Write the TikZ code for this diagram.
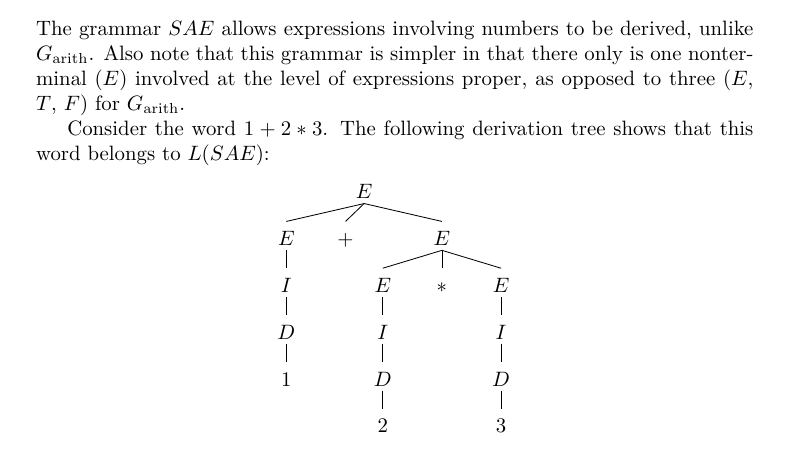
\documentclass[tikz,border=0pt]{standalone}
\usepackage{amsmath}
\usepackage{tikz}

\tikzset{sym/.style={anchor=base,inner xsep=0pt,inner ysep=2pt,text height=9.5pt,text depth=0pt}}

\begin{document}
\begin{tikzpicture}[]
	\useasboundingbox (0,0) rectangle (13.59,-7.64);
	\node[anchor=base west,inner sep=0pt,text width=345pt,align=justify] (txt) at (0.603,-0.603) {\setlength{\parindent}{15pt}\noindent The grammar $SAE$ allows expressions involving numbers to be derived, unlike $G_{\mathrm{arith}}$. Also note that this grammar is simpler in that there only is one nonterminal $(E)$ involved at the level of expressions proper, as opposed to three $(E$, $T$, $F)$ for $G_{\mathrm{arith}}$.\par
	Consider the word $1+2*3$. The following derivation tree shows that this word belongs to $L(SAE)$:};

	\node[sym] (e) at (6.155,-3.363) {$E$};
	\node[sym] (e1) at (4.84,-4.154) {$E$};
	\node[sym] (plus) at (5.84,-4.154) {$+$};
	\node[sym] (e2) at (7.47,-4.154) {$E$};
	\node[sym] (i1) at (4.84,-4.945) {$I$};
	\node[sym] (e3) at (6.47,-4.945) {$E$};
	\node[sym] (star) at (7.47,-4.945) {$*$};
	\node[sym] (e4) at (8.47,-4.945) {$E$};
	\node[sym] (d1) at (4.84,-5.736) {$D$};
	\node[sym] (i2) at (6.47,-5.736) {$I$};
	\node[sym] (i3) at (8.47,-5.736) {$I$};
	\node[sym] (n1) at (4.84,-6.527) {$1$};
	\node[sym] (d2) at (6.47,-6.527) {$D$};
	\node[sym] (d3) at (8.47,-6.527) {$D$};
	\node[sym] (n2) at (6.47,-7.318) {$2$};
	\node[sym] (n3) at (8.47,-7.318) {$3$};

\draw (e.south) -- (e1.north);
\draw (e.south) -- (plus.north);
\draw (e.south) -- (e2.north);
\draw (e1.south) -- (i1.north);
\draw (i1.south) -- (d1.north);
\draw (d1.south) -- (n1.north);
\draw (e2.south) -- (e3.north);
\draw (e2.south) -- (star.north);
\draw (e2.south) -- (e4.north);
\draw (e3.south) -- (i2.north);
\draw (i2.south) -- (d2.north);
\draw (d2.south) -- (n2.north);
\draw (e4.south) -- (i3.north);
\draw (i3.south) -- (d3.north);
\draw (d3.south) -- (n3.north);
\end{tikzpicture}
\end{document}
